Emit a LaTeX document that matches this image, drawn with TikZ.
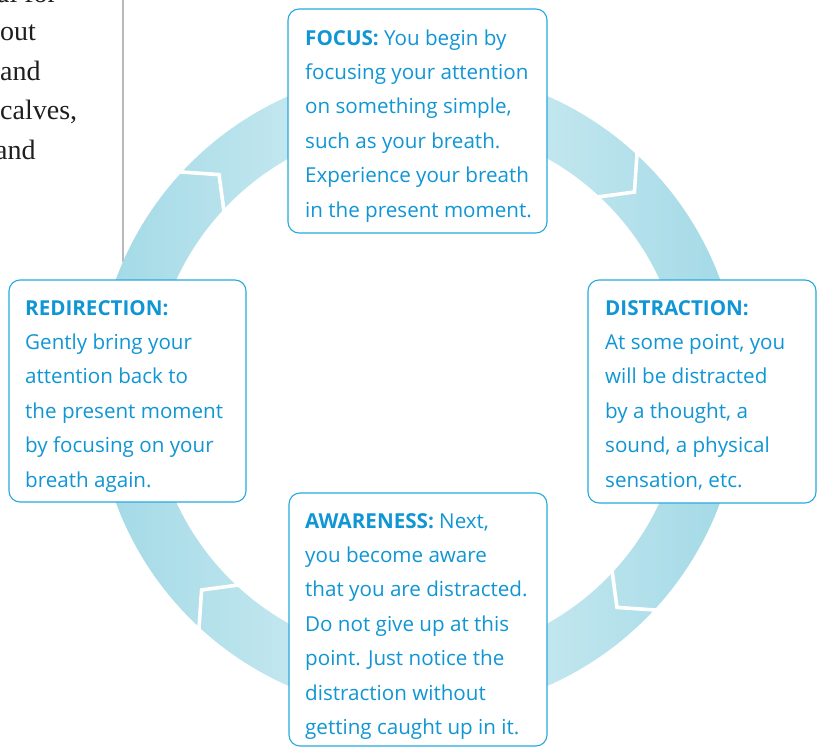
\documentclass[tikz,border=0pt]{standalone}
\usepackage{fontspec}
\setmainfont{Open Sans}
\newfontfamily\bodyserif{Liberation Serif}
\usetikzlibrary{calc}
\definecolor{txtblue}{RGB}{16,150,212}
\definecolor{boxblue}{RGB}{38,170,222}
\definecolor{ringdark}{RGB}{124,202,219}
\definecolor{ringlight}{RGB}{198,232,240}
\definecolor{rulegray}{RGB}{185,185,185}
\definecolor{serifink}{RGB}{30,30,30}
\pgfdeclarehorizontalshading{ringshade}{100bp}{color(0bp)=(ringdark); color(8bp)=(ringdark); color(42bp)=(ringlight); color(58bp)=(ringlight); color(92bp)=(ringdark); color(100bp)=(ringdark)}
\tikzset{
  card/.style={draw=boxblue, line width=1.1pt, fill=white, rounded corners=11pt, inner sep=0pt, outer sep=0pt},
  cardtext/.style={anchor=base west, inner sep=0pt, text=txtblue, font=\fontsize{20.6}{34.4}\selectfont},
  seriftext/.style={anchor=base west, inner sep=0pt, text=serifink, font=\bodyserif\fontsize{28}{34}\selectfont},
  chevron/.style={white, line width=3.6pt, miter limit=10}
}
\begin{document}
\begin{tikzpicture}[x=1pt,y=1pt]
\useasboundingbox (0,0) rectangle (817,-747);
\clip (0,0) rectangle (817,-747);
% cut-off body text at the top left
\node[seriftext] (s1) at (-3,-2.5) {al for};
\node[seriftext] (s2) at (0,-40) {out};
\node[seriftext] (s3) at (0,-80) {and};
\node[seriftext] (s4) at (0,-119.5) {calves,};
\node[seriftext] (s5) at (-5,-159) {and};
\coordinate (ruletop) at (123,0);
\coordinate (rulebot) at (123,-262);
\draw[rulegray, line width=1.5pt] (ruletop) -- (rulebot);
% ring
\coordinate (c) at (418,-391);
\shade[shading=ringshade, even odd rule] (c) circle[radius=322] (c) circle[radius=266];
\foreach \a in {138,48,-42,-132}
  \draw[chevron] ($(c)+(\a:328pt)$) -- ($(c)+(\a-5.4:294pt)$) -- ($(c)+(\a:260pt)$);
% cards
\node[card, minimum width=259, minimum height=224] (focusbox) at (417.5,-121) {};
\node[card, minimum width=228, minimum height=223] (distbox) at (702,-391.5) {};
\node[card, minimum width=258, minimum height=253] (awarebox) at (418,-619.5) {};
\node[card, minimum width=237, minimum height=222] (redirbox) at (127.5,-391) {};
\node[cardtext] (focustext) at (305,-45) {\parbox[t]{240pt}{\raggedright
  \textbf{FOCUS:} You begin by\\
  focusing your attention\\
  on something simple,\\
  such as your breath.\\
  Experience your breath\\
  in the present moment.}};
\node[cardtext] (disttext) at (605,-315) {\parbox[t]{210pt}{\raggedright
  \textbf{DISTRACTION:}\\
  At some point, you\\
  will be distracted\\
  by a thought, a\\
  sound, a physical\\
  sensation, etc.}};
\node[cardtext] (awaretext) at (305,-528) {\parbox[t]{240pt}{\raggedright
  \textbf{AWARENESS:} Next,\\
  you become aware\\
  that you are distracted.\\
  Do not give up at this\\
  point. Just notice the\\
  distraction without\\
  getting caught up in it.}};
\node[cardtext] (redirtext) at (25,-315) {\parbox[t]{220pt}{\raggedright
  \textbf{REDIRECTION:}\\
  Gently bring your\\
  attention back to\\
  the present moment\\
  by focusing on your\\
  breath again.}};
\end{tikzpicture}
\end{document}
